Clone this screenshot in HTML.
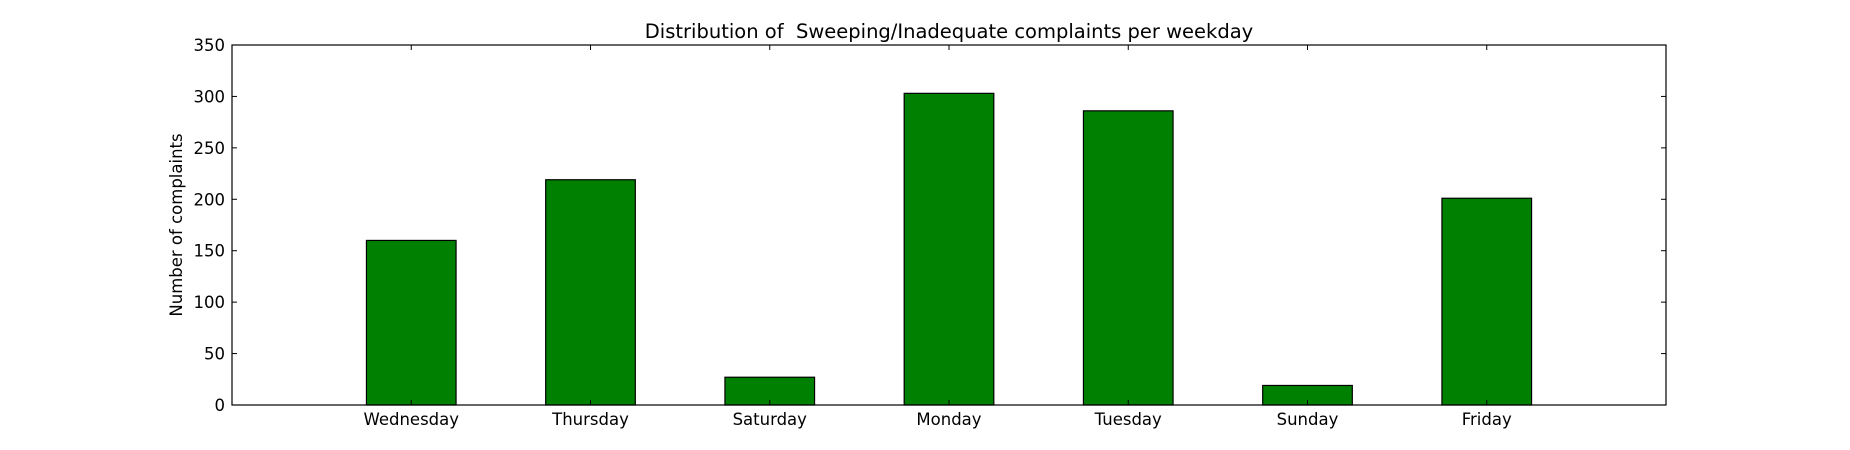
<!DOCTYPE html>
<html><head><meta charset="utf-8"><style>
html,body{margin:0;padding:0;background:#fff;}
svg{display:block;font-family:"DejaVu Sans","Liberation Sans",sans-serif;}
</style></head><body>
<svg id="chart" width="1850" height="450" viewBox="0 0 1850 450"></svg>
<script>
const categories=["Wednesday","Thursday","Saturday","Monday","Tuesday","Sunday","Friday"];
const values=[160,219,27,303,286,19,201];
const yTicks=[0,50,100,150,200,250,300,350];
const L=232,R=1666,T=45,B=405;
const xMin=-1,xMax=7,yMax=350;
const NS="http://www.w3.org/2000/svg";
const svg=document.getElementById('chart');
function x(v){return L+(v-xMin)/(xMax-xMin)*(R-L);}
function y(v){return B-v/yMax*(B-T);}
function el(tag,attrs,txt){const e=document.createElementNS(NS,tag);for(const k in attrs)e.setAttribute(k,attrs[k]);if(txt!==undefined)e.textContent=txt;svg.appendChild(e);return e;}
categories.forEach((c,i)=>{
  const x0=x(i-0.25),x1=x(i+0.25);
  const b=el('rect',{x:x0,y:y(values[i]),width:x1-x0,height:B-y(values[i]),fill:'#008000',stroke:'#000','stroke-width':1.2});
  
  
  const xc=x(i);
  el('line',{x1:xc,x2:xc,y1:B,y2:B-5,stroke:'#000'});
  el('line',{x1:xc,x2:xc,y1:T,y2:T+5,stroke:'#000'});
  const t=el('text',{x:xc,y:B+20,'text-anchor':'middle','font-size':16.5},c);
  
  
});
yTicks.forEach(v=>{
  const yy=y(v);
  el('line',{x1:L,x2:L+5,y1:yy,y2:yy,stroke:'#000'});
  el('line',{x1:R,x2:R-5,y1:yy,y2:yy,stroke:'#000'});
  const t=el('text',{x:L-7,y:yy+6,'text-anchor':'end','font-size':16.5},v);
  
  
});
const f=el('rect',{x:L,y:T,width:R-L,height:B-T,fill:'none',stroke:'#000','stroke-width':1.2});


const ti=el('text',{x:(L+R)/2,y:38,'text-anchor':'middle','font-size':19.5},'Distribution of  Sweeping/Inadequate complaints per weekday');


ti.style.whiteSpace='pre';
const yl=el('text',{x:0,y:0,'text-anchor':'middle','font-size':16.5,transform:'translate(182,225) rotate(-90)'},'Number of complaints');


</script>
</body></html>
